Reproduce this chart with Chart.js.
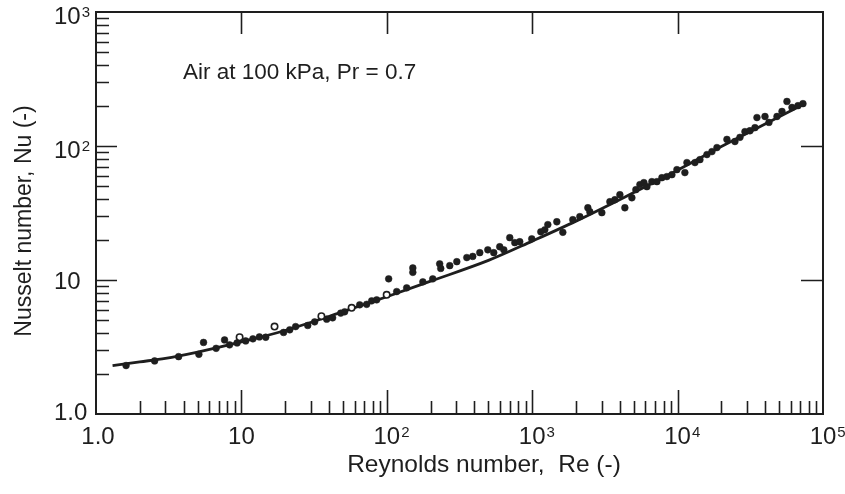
<!DOCTYPE html>
<html>
<head>
<meta charset="utf-8">
<script src="https://cdn.jsdelivr.net/npm/chart.js@4.4.1/dist/chart.umd.min.js"></script>
<style>
  html, body { margin: 0; padding: 0; background: #fff; }
  #wrap { width: 845px; height: 494px; }
</style>
</head>
<body>
<div id="wrap"><canvas id="c" width="845" height="494"></canvas></div>
<script>
// ---- data ----
const curveRe = [1.3, 2, 3, 5, 10, 20, 50, 100, 200, 500, 1000, 2000, 5000, 10000, 20000, 50000, 75000];
const curveNu = [2.3, 2.45, 2.6, 2.9, 3.45, 4.2, 5.8, 7.5, 9.8, 14, 19.5, 27.5, 45, 66, 99, 165, 208];

const solidRe = [1.61, 2.53, 3.70, 5.10, 5.49, 6.70, 7.66, 8.29, 9.34, 10.7, 12.0, 13.3, 14.7, 19.5, 21.5, 23.6, 28.6, 31.9, 38.6, 42.4, 48.2, 51.3, 65.1, 72.7, 78.7, 85.2,
  103, 117, 137, 151, 151, 177, 207, 231, 235, 271, 303, 355, 390, 436, 495, 544, 598, 638, 701, 759, 821, 993,
  1146, 1221, 1281, 1477, 1624, 1902, 2126, 2414, 2491, 3013, 3420, 3703, 4009, 4338, 4848, 5164, 5502, 5863, 6150, 6653, 7204, 7798, 8437, 9139, 9890,
  11220, 11590, 13160, 14240, 15910, 17220, 18640, 21840, 24790, 26840, 29050, 31450, 34040, 35130, 39900, 42490, 48250, 52230, 56500, 61190, 67300, 72800];
const solidNu = [2.30, 2.49, 2.68, 2.79, 3.42, 3.09, 3.57, 3.28, 3.39, 3.51, 3.64, 3.76, 3.74, 4.06, 4.25, 4.49, 4.58, 4.87, 5.10, 5.22, 5.66, 5.79, 6.53, 6.58, 6.99, 7.11,
  10.2, 8.20, 8.74, 12.3, 11.4, 9.69, 10.2, 13.2, 12.2, 12.8, 13.7, 14.7, 15.0, 16.0, 16.8, 16.0, 17.7, 16.8, 20.7, 19.0, 19.3, 20.3,
  22.9, 23.7, 25.9, 27.2, 22.7, 28.2, 29.7, 34.6, 32.3, 31.8, 38.4, 39.7, 43.3, 34.6, 41.1, 47.2, 51.5, 53.3, 49.7, 54.2, 54.2, 58.0, 59.1, 61.1, 66.6,
  63.3, 75.2, 75.2, 79.1, 86.3, 90.8, 97.3, 112, 108, 116, 128, 130, 137, 163, 166, 150, 166, 181, 215, 194, 200, 207];

const openRe = [9.72, 16.9, 35.5, 57.3, 99.8];
const openNu = [3.74, 4.49, 5.37, 6.20, 7.75];

const xTickValues = [1, 10, 100, 1000, 10000, 100000];
const xTickBase = ['1.0', '10', '10', '10', '10', '10'];
const xTickExp = ['', '', '2', '3', '4', '5'];
const yTickValues = [1, 10, 100, 1000];
const yTickBase = ['1.0', '10', '10', '10'];
const yTickExp = ['', '', '2', '3'];

const xTitle = 'Reynolds number,  Re (-)';
const yTitle = 'Nusselt number, Nu (-)';
const note = 'Air at 100 kPa, Pr = 0.7';

// ---- build datasets ----
const pts = (xs, ys) => xs.map((v, i) => ({ x: v, y: ys[i] }));

const FONT = '"Liberation Sans", Arial, Helvetica, sans-serif';
const INK = '#1e1e1e';

const axesPlugin = {
  id: 'axesPlugin',
  afterDraw(chart) {
    const { ctx, chartArea: a, scales } = chart;
    const xs = scales.x, ys = scales.y;
    ctx.save();
    ctx.strokeStyle = INK;
    ctx.fillStyle = INK;
    // frame
    ctx.lineWidth = 2;
    ctx.strokeRect(a.left, a.top, a.right - a.left, a.bottom - a.top);
    ctx.lineWidth = 1.6;
    ctx.beginPath();
    // bottom axis ticks (inward) and top major ticks
    for (let d = 0; d < 5; d++) {
      for (let m = 1; m <= 9; m++) {
        const v = m * Math.pow(10, d);
        if (v <= 1) continue;
        const px = Math.round(xs.getPixelForValue(v)) + 0.5;
        const len = m === 1 ? 24 : 13;
        ctx.moveTo(px, a.bottom);
        ctx.lineTo(px, a.bottom - len);
        if (m === 1) {
          ctx.moveTo(px, a.top);
          ctx.lineTo(px, a.top + 22);
        }
      }
    }
    // left axis ticks and right major ticks
    for (let d = 0; d < 3; d++) {
      for (let m = 1; m <= 9; m++) {
        const v = m * Math.pow(10, d);
        if (v <= 1) continue;
        const py = Math.round(ys.getPixelForValue(v)) + 0.5;
        const len = m === 1 ? 21 : 13;
        ctx.moveTo(a.left, py);
        ctx.lineTo(a.left + len, py);
        if (m === 1) {
          ctx.moveTo(a.right, py);
          ctx.lineTo(a.right - 22, py);
        }
      }
    }
    ctx.stroke();

    const baseSize = 24, supSize = 15;
    // x tick labels
    ctx.textBaseline = 'alphabetic';
    xTickValues.forEach((v, i) => {
      const px = xs.getPixelForValue(v);
      ctx.font = baseSize + 'px ' + FONT;
      const w = ctx.measureText(xTickBase[i]).width;
      const left = px - w / 2 + (i === 0 ? 2 : 0);
      ctx.textAlign = 'left';
      ctx.fillText(xTickBase[i], left, a.bottom + 30);
      if (xTickExp[i]) {
        ctx.font = supSize + 'px ' + FONT;
        ctx.fillText(xTickExp[i], left + w + 1, a.bottom + 23);
      }
    });
    // y tick labels (left-aligned)
    yTickValues.forEach((v, i) => {
      const py = ys.getPixelForValue(v);
      ctx.font = baseSize + 'px ' + FONT;
      ctx.textAlign = 'left';
      const off = i === 0 ? 6 : (yTickExp[i] ? 12 : 8.5);
      const w = ctx.measureText(yTickBase[i]).width;
      ctx.fillText(yTickBase[i], 54, py + off);
      if (yTickExp[i]) {
        ctx.font = supSize + 'px ' + FONT;
        ctx.fillText(yTickExp[i], 54 + w + 1, py + off - 7);
      }
    });
    // axis titles
    ctx.font = '24.5px ' + FONT;
    ctx.textAlign = 'center';
    ctx.fillText(xTitle, 484, 472);
    ctx.save();
    ctx.translate(31, 221);
    ctx.rotate(-Math.PI / 2);
    ctx.font = '23px ' + FONT;
    ctx.fillText(yTitle, 0, 0);
    ctx.restore();
    // annotation
    ctx.font = '22.5px ' + FONT;
    ctx.textAlign = 'left';
    ctx.fillText(note, 183, 79);
    ctx.restore();
  }
};

new Chart(document.getElementById('c'), {
  type: 'scatter',
  data: {
    datasets: [
      {
        label: 'correlation',
        type: 'line',
        data: pts(curveRe, curveNu),
        showLine: true,
        borderColor: INK,
        borderWidth: 2.8,
        pointRadius: 0,
        tension: 0.4,
        cubicInterpolationMode: 'monotone',
        fill: false,
        order: 2
      },
      {
        label: 'data',
        data: pts(solidRe, solidNu),
        pointRadius: 3.4,
        pointBackgroundColor: INK,
        pointBorderColor: INK,
        pointBorderWidth: 0.5,
        order: 1
      },
      {
        label: 'data (open)',
        data: pts(openRe, openNu),
        pointRadius: 3.2,
        pointBackgroundColor: '#ffffff',
        pointBorderColor: INK,
        pointBorderWidth: 1.6,
        order: 0
      }
    ]
  },
  options: {
    responsive: false,
    devicePixelRatio: 1,
    animation: false,
    layout: { padding: { left: 96, right: 22, top: 12, bottom: 80 } },
    plugins: { legend: { display: false }, tooltip: { enabled: false } },
    scales: {
      x: { type: 'logarithmic', min: 1, max: 100000, display: false },
      y: { type: 'logarithmic', min: 1, max: 1000, display: false }
    }
  },
  plugins: [axesPlugin]
});
</script>
</body>
</html>
